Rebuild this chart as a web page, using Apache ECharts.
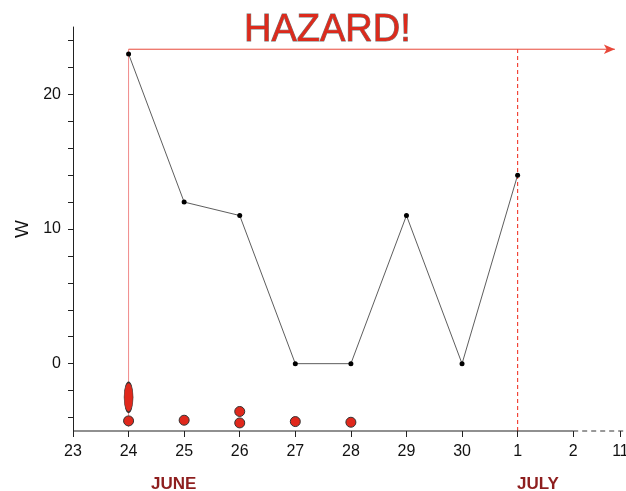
<!DOCTYPE html>
<html>
<head>
<meta charset="utf-8">
<script src="https://cdn.jsdelivr.net/npm/echarts@6/dist/echarts.min.js"></script>
<style>html,body{margin:0;padding:0;background:#fff;}#c{width:626px;height:491px;}</style>
</head>
<body>
<div id="c"></div>
<script>
// ---- data ----
const xTicks = [23, 24, 25, 26, 27, 28, 29, 30, 31, 32, 32.85];
const xTickLabels = ['23', '24', '25', '26', '27', '28', '29', '30', '1', '2', '11'];
const yTicks = [-4, -2, 0, 2, 4, 6, 8, 10, 12, 14, 16, 18, 20, 22, 24];
const yTickLabels = [0, 10, 20];
const days = [24, 25, 26, 27, 28, 29, 30, 31];
const wValues = [23, 12, 11, 0, 0, 11, 0, 14];
const eventX = [24, 25, 26, 26, 27, 28];
const eventY = [-4.25, -4.2, -3.55, -4.4, -4.3, -4.35];
const bigEventX = [24];
const bigEventY = [-2.5];
const hazardStart = 24;
const hazardLevel = 23.35;
const hazardEnd = 32.75;
const hazardBottom = -4.7;
const julyStart = 31;
const xMin = 23, xMax = 32.95, xSolidEnd = 32, yMin = -5, yMax = 25;

const font = 'Liberation Sans, Arial, sans-serif';
const zip = (a, b) => a.map((v, i) => [v, b[i]]);

const chart = echarts.init(document.getElementById('c'), null, {renderer: 'canvas'});
chart.setOption({
  animation: false,
  backgroundColor: '#fff',
  title: {
    text: 'HAZARD!',
    left: 239,
    top: 7,
    textStyle: {
      fontFamily: font, fontSize: 38, fontWeight: 'normal',
      color: '#dc2a1c', textBorderColor: '#777', textBorderWidth: 1
    }
  },
  grid: {left: 73, right: 0, top: 27, bottom: 60, containLabel: false, outerBoundsMode: 'none'},
  xAxis: {
    type: 'value', min: xMin, max: xMax,
    axisLine: {show: false, onZero: false},
    splitLine: {show: false},
    axisTick: {show: true, customValues: xTicks, length: 6, lineStyle: {color: '#222', width: 1}},
    axisLabel: {
      customValues: xTicks, margin: 13, hideOverlap: false,
      fontFamily: font, fontSize: 16, color: '#111',
      formatter: v => { const i = xTicks.findIndex(t => Math.abs(t - v) < 1e-6); return i >= 0 ? xTickLabels[i] : ''; }
    }
  },
  yAxis: {
    type: 'value', min: yMin, max: yMax,
    name: 'W', nameLocation: 'middle', nameGap: 40,
    nameTextStyle: {fontFamily: font, fontSize: 19, color: '#111'},
    axisLine: {show: true, onZero: false, lineStyle: {color: '#222', width: 1}},
    splitLine: {show: false},
    axisTick: {show: true, customValues: yTicks, length: 5, lineStyle: {color: '#222', width: 1}},
    axisLabel: {customValues: yTickLabels, margin: 12, fontFamily: font, fontSize: 16, color: '#111'}
  },
  graphic: [
    {type: 'text', left: 151, top: 476, style: {text: 'JUNE', fontFamily: font, fontSize: 17, fontWeight: 'bold', fill: '#8e1e1e'}},
    {type: 'text', left: 517, top: 476, style: {text: 'JULY', fontFamily: font, fontSize: 17, fontWeight: 'bold', fill: '#8e1e1e'}}
  ],
  series: [
    {
      type: 'line', silent: true, clip: false, symbol: 'none',
      data: [[xMin, yMin], [xSolidEnd, yMin]],
      lineStyle: {color: '#222', width: 1.2}, z: 5
    },
    {
      type: 'line', silent: true, clip: false, symbol: 'none',
      data: [[xSolidEnd, yMin], [xMax, yMin]],
      lineStyle: {color: '#333', width: 1, type: [5, 4]}, z: 5
    },
    {
      type: 'line', silent: true, clip: false, symbol: 'none',
      data: [[hazardStart, hazardBottom], [hazardStart, hazardLevel]],
      lineStyle: {color: '#f08a8a', width: 1}, z: 2
    },
    {
      type: 'line', silent: true, clip: false, symbol: 'none',
      data: [[julyStart, yMin], [julyStart, hazardLevel]],
      lineStyle: {color: '#f0382a', width: 1.1, type: [4, 3]}, z: 2
    },
    {
      type: 'line', silent: true, clip: false,
      data: [[hazardStart, hazardLevel], [hazardEnd, hazardLevel]],
      showSymbol: true,
      symbol: (v, p) => (p.dataIndex === 1 ? 'arrow' : 'none'),
      symbolSize: [7, 11], symbolRotate: -90,
      lineStyle: {color: '#e8483a', width: 1},
      itemStyle: {color: '#e8483a'}, z: 2
    },
    {
      type: 'line', data: zip(days, wValues),
      symbol: 'circle', symbolSize: 5,
      lineStyle: {color: '#333', width: 0.8},
      itemStyle: {color: '#000'}, z: 3
    },
    {
      type: 'scatter', data: zip(eventX, eventY),
      symbol: 'circle', symbolSize: 10,
      itemStyle: {color: '#e0281c', opacity: 1, borderColor: '#333', borderWidth: 1}, z: 4
    },
    {
      type: 'scatter', data: zip(bigEventX, bigEventY),
      symbol: 'circle', symbolSize: [9, 30],
      itemStyle: {color: '#e0281c', opacity: 1, borderColor: '#333', borderWidth: 1}, z: 4
    }
  ]
});
</script>
</body>
</html>
